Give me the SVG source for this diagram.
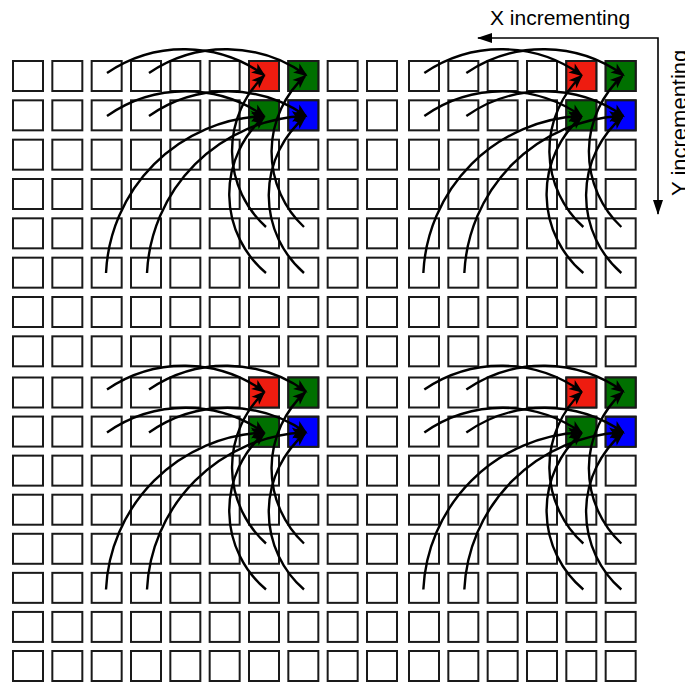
<svg xmlns="http://www.w3.org/2000/svg" xmlns:xlink="http://www.w3.org/1999/xlink" width="685" height="683" viewBox="0 0 685 683">
<style>
.cell{fill:#ffffff;stroke:#1a1a1a;stroke-width:2}
.red{fill:#ee1c10;stroke:#1a1a1a;stroke-width:2}
.green{fill:#007000;stroke:#1a1a1a;stroke-width:2}
.blue{fill:#0000ff;stroke:#1a1a1a;stroke-width:2}
.arc{fill:none;stroke:#000;stroke-width:2.4;marker-end:url(#ah)}
.axis{fill:none;stroke:#000;stroke-width:1.6;marker-start:url(#axh);marker-end:url(#axh)}
.lbl{font-family:"Liberation Sans",Arial,sans-serif;font-size:21px;fill:#000}
</style>
<defs>
<marker id="ah" markerUnits="userSpaceOnUse" viewBox="-14 -7 17 14" markerWidth="17" markerHeight="14" refX="0" refY="0" orient="auto">
<path d="M2,0 L-12,-5.5 L-8.5,0 L-12,5.5 Z" fill="#000"/>
</marker>
<marker id="axh" markerUnits="userSpaceOnUse" viewBox="-15 -6 17 12" markerWidth="17" markerHeight="12" refX="0" refY="0" orient="auto-start-reverse">
<path d="M1,0 L-14,-5 L-14,5 Z" fill="#000"/>
</marker>
<g id="rowcells">
<rect class="cell" x="13" y="0" width="30" height="30"/>
<rect class="cell" x="52.33" y="0" width="30" height="30"/>
<rect class="cell" x="91.67" y="0" width="30" height="30"/>
<rect class="cell" x="131" y="0" width="30" height="30"/>
<rect class="cell" x="170.33" y="0" width="30" height="30"/>
<rect class="cell" x="209.67" y="0" width="30" height="30"/>
<rect class="cell" x="249" y="0" width="30" height="30"/>
<rect class="cell" x="288.33" y="0" width="30" height="30"/>
<rect class="cell" x="327.67" y="0" width="30" height="30"/>
<rect class="cell" x="367" y="0" width="30" height="30"/>
<rect class="cell" x="409" y="0" width="30" height="30"/>
<rect class="cell" x="448.33" y="0" width="30" height="30"/>
<rect class="cell" x="487.67" y="0" width="30" height="30"/>
<rect class="cell" x="527" y="0" width="30" height="30"/>
<rect class="cell" x="566.33" y="0" width="30" height="30"/>
<rect class="cell" x="605.67" y="0" width="30" height="30"/>
</g>
<g id="quad">
<rect class="red" x="249" y="61" width="30" height="30"/>
<rect class="green" x="288.33" y="61" width="30" height="30"/>
<rect class="green" x="249" y="100.33" width="30" height="30"/>
<rect class="blue" x="288.33" y="100.33" width="30" height="30"/>
</g>
<g id="arcset">
<path class="arc" d="M107,73 A137,137 0 0 1 264,75"/>
<path class="arc" d="M149,73 A137,137 0 0 1 306,75"/>
<path class="arc" d="M107,116 A137,137 0 0 1 264,116"/>
<path class="arc" d="M149,116 A137,137 0 0 1 306,116"/>
<path class="arc" d="M266,227 A103,103 0 0 1 264,76"/>
<path class="arc" d="M266,273 A103,103 0 0 1 264,117"/>
<path class="arc" d="M304,227 A103,103 0 0 1 305,76"/>
<path class="arc" d="M304,273 A103,103 0 0 1 305,117"/>
<path class="arc" d="M106,273 A165,165 0 0 1 263,116"/>
<path class="arc" d="M147,273 A165,165 0 0 1 304,116"/>
</g>
</defs>
<g id="grid">
<use xlink:href="#rowcells" y="61"/>
<use xlink:href="#rowcells" y="100.33"/>
<use xlink:href="#rowcells" y="139.67"/>
<use xlink:href="#rowcells" y="179"/>
<use xlink:href="#rowcells" y="218.33"/>
<use xlink:href="#rowcells" y="257.67"/>
<use xlink:href="#rowcells" y="297"/>
<use xlink:href="#rowcells" y="336.33"/>
<use xlink:href="#rowcells" y="377.5"/>
<use xlink:href="#rowcells" y="416.57"/>
<use xlink:href="#rowcells" y="455.64"/>
<use xlink:href="#rowcells" y="494.71"/>
<use xlink:href="#rowcells" y="533.78"/>
<use xlink:href="#rowcells" y="572.85"/>
<use xlink:href="#rowcells" y="611.92"/>
<use xlink:href="#rowcells" y="651"/>
</g>
<g id="block-top-left"><use xlink:href="#quad"/></g>
<g id="block-top-right"><use xlink:href="#quad" x="317.33"/></g>
<g id="block-bottom-left"><use xlink:href="#quad" y="316.5"/></g>
<g id="block-bottom-right"><use xlink:href="#quad" x="317.33" y="316.5"/></g>
<g id="connectors">
<use xlink:href="#arcset"/>
<use xlink:href="#arcset" x="317.33"/>
<use xlink:href="#arcset" y="316.5"/>
<use xlink:href="#arcset" x="317.33" y="316.5"/>
<path class="axis" d="M478,38 H658 V214"/>
</g>
<g id="labels">
<text class="lbl" x="490" y="25">X incrementing</text>
<text class="lbl" style="font-size:22px" transform="translate(687,196) rotate(-90)">Y incrementing</text>
</g>
</svg>
